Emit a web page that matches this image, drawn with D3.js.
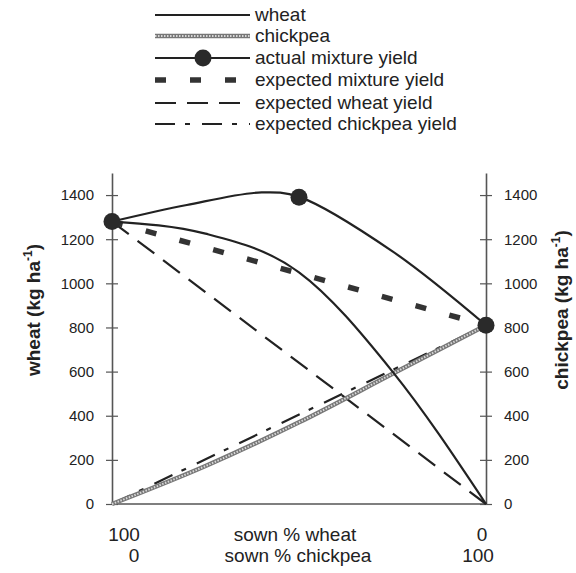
<!DOCTYPE html>
<html>
<head>
<meta charset="utf-8">
<script src="https://cdn.jsdelivr.net/npm/d3@7"></script>
<style>
  body { margin: 0; background: #fff; }
  svg { display: block; font-family: "Liberation Sans", Arial, sans-serif; }
</style>
</head>
<body>
<svg id="chart" width="576" height="573"></svg>
<script>
// Sown proportion of chickpea in the mixture (%)
const sownChickpea = [0, 25, 50, 75, 100];
// Component yields (kg/ha)
const wheatYield = [1280, 1225, 1050, 600, 0];
const chickpeaYield = [0, 172, 370, 590, 810];
// Actual mixture yield: fitted curve and measured points
const mixtureCurvePct = [0, 20, 40, 50, 75, 100];
const mixtureCurve = [1280, 1355, 1412, 1392, 1145, 810];
const mixturePointPct = [0, 50, 100];
const mixturePointYield = [1280, 1390, 810];
// Expected yields (straight lines between sole-crop values)
const expectedPct = [0, 100];
const expectedMixture = [1280, 810];
const expectedWheat = [1280, 0];
const expectedChickpea = [0, 810];
// Axis ticks
const yTicks = [0, 200, 400, 600, 800, 1000, 1200, 1400];

const svg = d3.select("#chart");
const x = d3.scaleLinear().domain([0, 100]).range([112, 486]);
const y = d3.scaleLinear().domain([0, 1500]).range([504, 173]);

const pts = (xs, ys) => xs.map((v, i) => [v, ys[i]]);
const line = d3.line().x(d => x(d[0])).y(d => y(d[1]));

// Axes
const fmt = d3.format("d");
const left = svg.append("g").attr("transform", `translate(${x(0)},0)`)
  .call(d3.axisLeft(y).tickValues(yTicks).tickFormat(fmt).tickSizeOuter(0).tickSizeInner(6).tickPadding(12));
const right = svg.append("g").attr("transform", `translate(${x(100)},0)`)
  .call(d3.axisRight(y).tickValues(yTicks).tickFormat(fmt).tickSizeOuter(0).tickSizeInner(6).tickPadding(12));
[left, right].forEach(g => {
  g.select(".domain").attr("stroke", "#555").attr("stroke-width", 1.6);
  g.selectAll(".tick line").attr("x1", -6).attr("x2", 6).attr("stroke", "#555").attr("stroke-width", 1.2);
  g.selectAll(".tick text").attr("font-size", 15).attr("fill", "#222")
    .attr("font-family", "Liberation Sans, Arial, sans-serif");
});
svg.append("line").attr("x1", x(0)).attr("x2", x(100)).attr("y1", y(0)).attr("y2", y(0))
  .attr("stroke", "#555").attr("stroke-width", 1.6);

// Series styles
const styles = {
  wheat: { stroke: "#222", width: 2.2, dash: null },
  mixture: { stroke: "#222", width: 2.2, dash: null },
  expMix: { stroke: "#333", width: 5.5, dash: "11,24" },
  expWheat: { stroke: "#222", width: 2.2, dash: "21,11" },
  expChick: { stroke: "#222", width: 2.2, dash: "20,10,5,12" }
};
function drawPath(data, st, curve) {
  svg.append("path").datum(data)
    .attr("d", line.curve(curve || d3.curveLinear))
    .attr("fill", "none").attr("stroke", st.stroke)
    .attr("stroke-width", st.width).attr("stroke-dasharray", st.dash);
}
function drawChickpea(data, curve) {
  const d = line.curve(curve || d3.curveLinear)(data);
  svg.append("path").attr("d", d).attr("fill", "none")
    .attr("stroke", "#777").attr("stroke-width", 4.5);
  svg.append("path").attr("d", d).attr("fill", "none")
    .attr("stroke", "#d8d8d8").attr("stroke-width", 2).attr("stroke-dasharray", "1.5,1.5");
}

drawPath(pts(expectedPct, expectedWheat), styles.expWheat);
drawPath(pts(expectedPct, expectedChickpea), styles.expChick);
drawChickpea(pts(sownChickpea, chickpeaYield), d3.curveMonotoneX);
drawPath(pts(expectedPct, expectedMixture), styles.expMix);
drawPath(pts(sownChickpea, wheatYield), styles.wheat, d3.curveMonotoneX);
drawPath(pts(mixtureCurvePct, mixtureCurve), styles.mixture, d3.curveCatmullRom.alpha(0.5));
svg.selectAll("circle.mix").data(pts(mixturePointPct, mixturePointYield)).enter()
  .append("circle").attr("class", "mix")
  .attr("cx", d => x(d[0])).attr("cy", d => y(d[1])).attr("r", 8.5).attr("fill", "#2a2a2a");

// Legend
const legend = [
  { label: "wheat", type: "wheat", yc: 15 },
  { label: "chickpea", type: "chick", yc: 36 },
  { label: "actual mixture yield", type: "mixture", yc: 58 },
  { label: "expected mixture yield", type: "expMix", yc: 80 },
  { label: "expected wheat yield", type: "expWheat", yc: 103 },
  { label: "expected chickpea yield", type: "expChick", yc: 124 }
];
const lx0 = 155, lx1 = 250;
legend.forEach(l => {
  if (l.type === "chick") {
    svg.append("line").attr("x1", lx0).attr("x2", lx1).attr("y1", l.yc).attr("y2", l.yc)
      .attr("stroke", "#777").attr("stroke-width", 4.5);
    svg.append("line").attr("x1", lx0).attr("x2", lx1).attr("y1", l.yc).attr("y2", l.yc)
      .attr("stroke", "#d8d8d8").attr("stroke-width", 2).attr("stroke-dasharray", "1.5,1.5");
  } else {
    const st = styles[l.type];
    svg.append("line").attr("x1", lx0).attr("x2", lx1).attr("y1", l.yc).attr("y2", l.yc)
      .attr("stroke", st.stroke).attr("stroke-width", st.width).attr("stroke-dasharray", st.dash);
    if (l.type === "mixture") {
      svg.append("circle").attr("cx", 203).attr("cy", l.yc).attr("r", 8.5).attr("fill", "#2a2a2a");
    }
  }
  svg.append("text").attr("x", 255).attr("y", l.yc + 6).attr("font-size", 19)
    .attr("fill", "#222").text(l.label);
});

// Axis titles
function yTitle(tx, ty, name) {
  const t = svg.append("text").attr("transform", `translate(${tx},${ty}) rotate(-90)`)
    .attr("text-anchor", "middle").attr("font-size", 19).attr("font-weight", "bold").attr("fill", "#222");
  t.append("tspan").text(name + " (kg ha");
  t.append("tspan").attr("dy", -8).attr("font-size", 12).text("-1");
  t.append("tspan").attr("dy", 8).text(")");
}
yTitle(40, 310, "wheat");
yTitle(568, 310, "chickpea");

const bottom = [
  { t: "100", x: 124, y: 541 }, { t: "sown % wheat", x: 295, y: 541 }, { t: "0", x: 482, y: 541 },
  { t: "0", x: 134, y: 562 }, { t: "sown % chickpea", x: 298, y: 562 }, { t: "100", x: 478, y: 562 }
];
svg.selectAll("text.bottom").data(bottom).enter().append("text").attr("class", "bottom")
  .attr("x", d => d.x).attr("y", d => d.y).attr("text-anchor", "middle")
  .attr("font-size", 19).attr("fill", "#222").text(d => d.t);
</script>
</body>
</html>
